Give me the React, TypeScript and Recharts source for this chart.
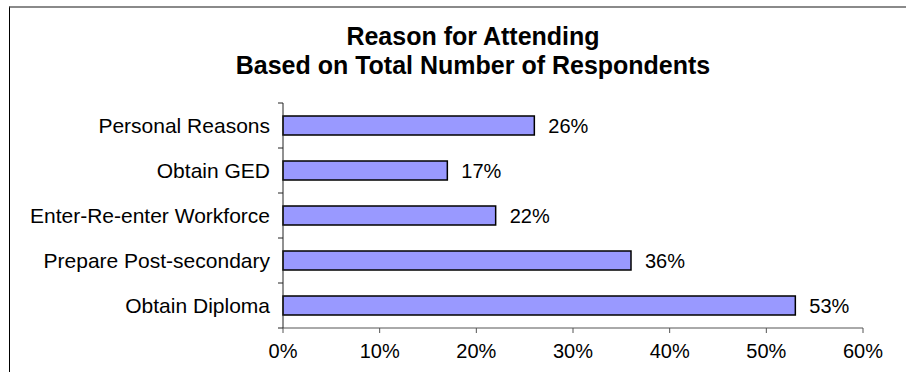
import { BarChart, Bar, XAxis, YAxis, LabelList } from "recharts"

// ---- data ----
const reasons = [
  "Personal Reasons",
  "Obtain GED",
  "Enter-Re-enter Workforce",
  "Prepare Post-secondary",
  "Obtain Diploma",
]
const percents = [26, 17, 22, 36, 53]
const xTicks = [0, 10, 20, 30, 40, 50, 60]

const data = reasons.map((name, i) => ({ name, value: percents[i] }))

// ---- layout ----
const W = 906
const H = 372
const PLOT_TOP = 103
const X_AXIS_H = 44
const Y_AXIS_W = 283
const RIGHT = 43
const PLOT_H = H - PLOT_TOP - X_AXIS_H
const BAND = PLOT_H / reasons.length
const FONT = "'Liberation Sans', Arial, sans-serif"

// category label plus Excel-style tick marks on the band edges
function CategoryTick(props: any) {
  const { x, y, payload, index } = props
  return (
    <g>
      <line x1={x - 5} x2={x} y1={y - BAND / 2} y2={y - BAND / 2} stroke="#222" />
      {index === reasons.length - 1 && (
        <line x1={x - 5} x2={x} y1={y + BAND / 2} y2={y + BAND / 2} stroke="#222" />
      )}
      <text
        x={x - 13}
        y={y}
        dy={7.5}
        textAnchor="end"
        fontSize={21}
        fontFamily={FONT}
        fill="#000"
      >
        {payload.value}
      </text>
    </g>
  )
}

export default function App() {
  return (
    <div
      style={{
        position: "absolute",
        left: 0,
        top: 0,
        width: W,
        height: H,
        background: "#fff",
        fontFamily: FONT,
        overflow: "hidden",
      }}
    >
      {/* outer frame */}
      <div
        style={{
          position: "absolute",
          left: 9,
          top: 6,
          right: 0,
          bottom: 0,
          borderTop: "2px solid #8a8a8a",
          borderLeft: "1px solid #000",
        }}
      />
      <div
        style={{
          position: "absolute",
          left: 173,
          top: 22,
          width: 600,
          textAlign: "center",
          fontWeight: "bold",
          fontSize: 25,
          lineHeight: "29px",
          color: "#000",
          whiteSpace: "nowrap",
        }}
      >
        <div>Reason for Attending</div>
        <div>Based on Total Number of Respondents</div>
      </div>
      <div style={{ position: "absolute", left: 0, top: 0 }}>
        <BarChart
          width={W}
          height={H}
          data={data}
          layout="vertical"
          margin={{ top: PLOT_TOP, right: RIGHT, bottom: 0, left: 0 }}
          barSize={19}
        >
          <XAxis
            type="number"
            domain={[0, 60]}
            ticks={xTicks}
            tickFormatter={(v: number) => `${v}%`}
            height={X_AXIS_H}
            stroke="#555"
            tickSize={5}
            tickMargin={11}
            tick={{ fontSize: 20, fill: "#000", fontFamily: FONT }}
            interval={0}
          />
          <YAxis
            type="category"
            dataKey="name"
            width={Y_AXIS_W}
            stroke="#222"
            tickLine={false}
            tickSize={0}
            tickMargin={0}
            tick={<CategoryTick />}
            interval={0}
          />
          <Bar
            dataKey="value"
            fill="#9999ff"
            stroke="#000"
            strokeWidth={1.5}
            isAnimationActive={false}
          >
            <LabelList
              dataKey="value"
              position="right"
              offset={14}
              formatter={(v: any) => `${v}%`}
              style={{ fontSize: 20, fill: "#000", fontFamily: FONT }}
            />
          </Bar>
        </BarChart>
      </div>
    </div>
  )
}
